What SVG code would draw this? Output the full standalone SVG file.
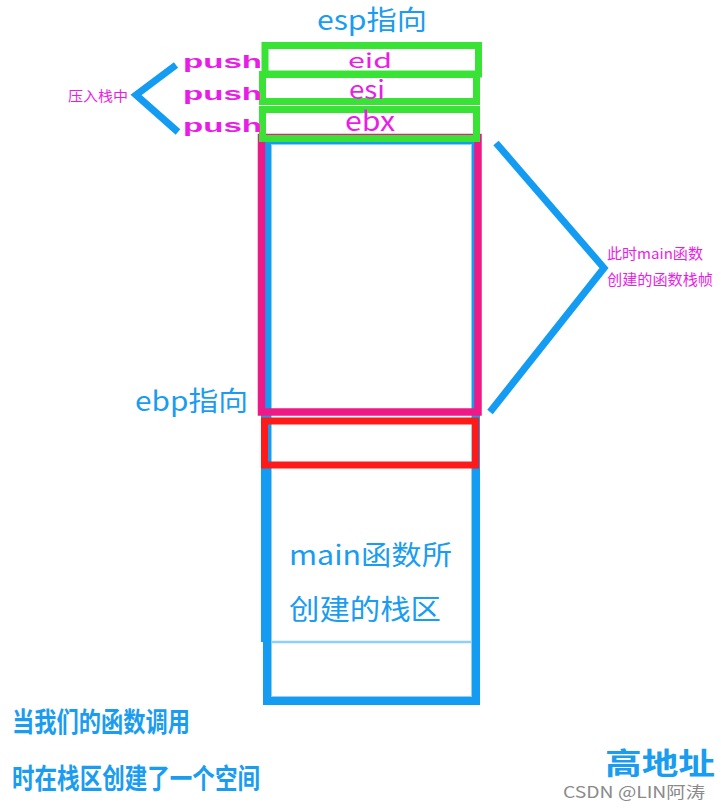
<svg xmlns="http://www.w3.org/2000/svg" width="721" height="809" viewBox="0 0 721 809">
<style>
  .cjk { font-family: "Noto Sans CJK SC", "Noto Sans", sans-serif; }
  .blue { fill: #1a9cf0; }
  .mag { fill: #e91ee6; }
  .stroke-blue { fill: none; stroke: #139cf1; stroke-linecap: butt; }
</style>
<rect width="721" height="809" fill="#ffffff"/>

<g id="main-stack">
  <rect x="261" y="140" width="4" height="502" fill="#139cf1"/>
  <rect x="267" y="140" width="209" height="561" fill="none" stroke="#139cf1" stroke-width="8"/>
  <rect x="271.5" y="144.5" width="200" height="552" fill="none" stroke="#8fd0f7" stroke-width="1"/>
  <line x1="271" y1="642" x2="472" y2="642" stroke="#8fd0f7" stroke-width="2.5"/>
  <text class="cjk blue" x="289" y="565" font-size="27" textLength="163" lengthAdjust="spacingAndGlyphs">main函数所</text>
  <text class="cjk blue" x="289" y="620" font-size="28" textLength="152" lengthAdjust="spacingAndGlyphs">创建的栈区</text>
</g>

<g id="frame">
  <rect x="261.5" y="137.5" width="216.5" height="274.5" fill="none" stroke="#ee1886" stroke-width="7.5"/>
</g>

<g id="ebp-slot">
  <rect x="264.5" y="421" width="211" height="44" fill="none" stroke="#ff1a1a" stroke-width="7"/>
</g>

<g id="eid">
  <rect x="265" y="45.5" width="213.5" height="28.5" fill="none" stroke="#39e336" stroke-width="7"/>
  <text class="cjk mag" x="348" y="68" font-size="20" textLength="44" lengthAdjust="spacingAndGlyphs">eid</text>
</g>
<g id="esi">
  <rect x="262.5" y="74.5" width="214" height="27" fill="none" stroke="#39e336" stroke-width="7"/>
  <text class="cjk mag" x="349" y="99" font-size="25" textLength="36" lengthAdjust="spacingAndGlyphs">esi</text>
</g>
<g id="ebx">
  <rect x="262.5" y="109.5" width="214" height="29" fill="none" stroke="#39e336" stroke-width="7"/>
  <text class="cjk mag" x="345" y="131" font-size="27" textLength="50" lengthAdjust="spacingAndGlyphs">ebx</text>
</g>

<g id="labels">
  <text class="cjk blue" x="317" y="30" font-size="27" textLength="110" lengthAdjust="spacingAndGlyphs">esp指向</text>
  <text class="cjk blue" x="135" y="411" font-size="27" textLength="113" lengthAdjust="spacingAndGlyphs">ebp指向</text>
  <g font-family="Liberation Sans, Arial, sans-serif" font-weight="bold" font-size="18" fill="#e91ee6">
    <text x="183" y="68" textLength="79" lengthAdjust="spacingAndGlyphs">push</text>
    <text x="183" y="100" textLength="79" lengthAdjust="spacingAndGlyphs">push</text>
    <text x="183" y="132" textLength="79" lengthAdjust="spacingAndGlyphs">push</text>
  </g>
  <text class="cjk mag" x="68" y="101" font-size="14" textLength="60" lengthAdjust="spacingAndGlyphs">压入栈中</text>
  <text class="cjk mag" x="607" y="259" font-size="14.5" textLength="96" lengthAdjust="spacingAndGlyphs">此时main函数</text>
  <text class="cjk mag" x="607" y="285" font-size="14.5" textLength="106" lengthAdjust="spacingAndGlyphs">创建的函数栈帧</text>
  <text class="cjk blue" x="12" y="732" font-size="27" font-weight="bold" textLength="178" lengthAdjust="spacingAndGlyphs">当我们的函数调用</text>
  <text class="cjk blue" x="12" y="789" font-size="28" font-weight="bold" textLength="248" lengthAdjust="spacingAndGlyphs">时在栈区创建了一个空间</text>
  <text class="cjk blue" x="605" y="774" font-size="30" font-weight="bold" textLength="110" lengthAdjust="spacingAndGlyphs">高地址</text>
  <text class="cjk" x="563" y="798" font-size="16" fill="#8a8a8a" textLength="142" lengthAdjust="spacingAndGlyphs">CSDN @LIN阿涛</text>
</g>

<g id="connectors">
  <polyline class="stroke-blue" points="176,65 136,95 178,132" stroke-width="7"/>
  <polyline class="stroke-blue" points="496,143 604,268 490,412" stroke-width="7"/>
</g>
</svg>
